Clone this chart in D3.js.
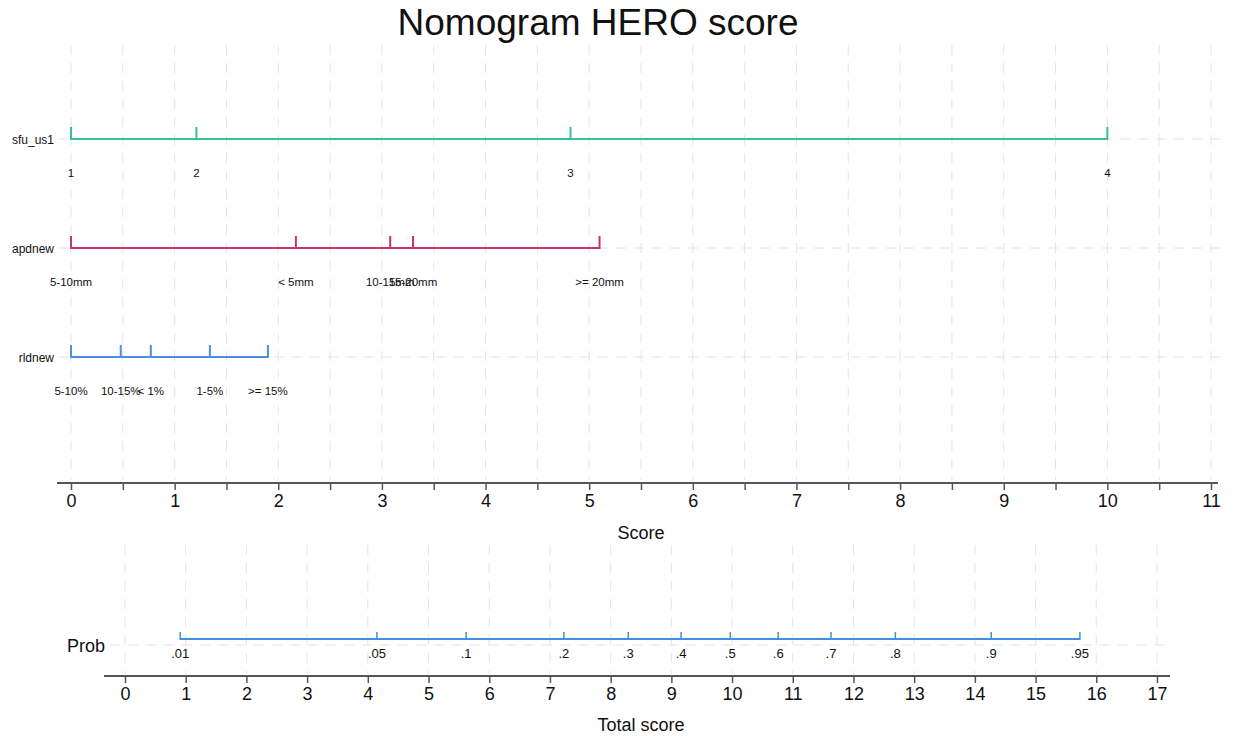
<!DOCTYPE html>
<html>
<head>
<meta charset="utf-8">
<script src="https://cdn.jsdelivr.net/npm/d3@7"></script>
<style>
	body { margin: 0; background: white; }
	text { font-family: "Liberation Sans", Arial, sans-serif; fill: #111; }
</style>
</head>
<body>
<script>
// Nomogram values (points on the Score scale for each level)
var rowNames = ["sfu_us1", "apdnew", "rldnew"]
var rowColors = ["#35c296", "#cc3468", "#4a8fe3"]

var sfuLabels = ["1", "2", "3", "4"]
var sfuPoints = [0, 1.21, 4.82, 10]

var apdLabels = ["5-10mm", "< 5mm", "10-15mm", "15-20mm", ">= 20mm"]
var apdPoints = [0, 2.17, 3.08, 3.30, 5.10]

var rldLabels = ["5-10%", "10-15%", "< 1%", "1-5%", ">= 15%"]
var rldPoints = [0, 0.48, 0.77, 1.34, 1.90]

var probLabels = [".01", ".05", ".1", ".2", ".3", ".4", ".5", ".6", ".7", ".8", ".9", ".95"]
var probPoints = [0.91, 4.15, 5.62, 7.23, 8.29, 9.16, 9.97, 10.76, 11.63, 12.69, 14.27, 15.73]

var scoreTicks = [0, 1, 2, 3, 4, 5, 6, 7, 8, 9, 10, 11]
var totalTicks = [0, 1, 2, 3, 4, 5, 6, 7, 8, 9, 10, 11, 12, 13, 14, 15, 16, 17]

var rows = [
	{ name: rowNames[0], labels: sfuLabels, points: sfuPoints, color: rowColors[0] },
	{ name: rowNames[1], labels: apdLabels, points: apdPoints, color: rowColors[1] },
	{ name: rowNames[2], labels: rldLabels, points: rldPoints, color: rowColors[2] }
]

var width = 1238, height = 736
var svg = d3.select("body").append("svg")
	.attr("width", width).attr("height", height)

// Title
svg.append("text").text("Nomogram HERO score")
	.attr("x", 598).attr("y", 35)
	.attr("font-size", 37)
	.attr("text-anchor", "middle")

var xScore = d3.scaleLinear().domain([0, 11]).range([71, 1211])
var xTotal = d3.scaleLinear().domain([0, 17]).range([125, 1157])
var yRow = d3.scalePoint().domain(rowNames).range([139, 357])

var gridColor = "#e4e4e4"

// Upper panel grid
var halfSteps = d3.range(0, 11.01, 0.5)
var grid = svg.append("g")
grid.selectAll("line.v").data(halfSteps).enter().append("line")
	.attr("x1", function(d) { return xScore(d) }).attr("x2", function(d) { return xScore(d) })
	.attr("y1", 45).attr("y2", 480)
	.attr("stroke", gridColor).attr("stroke-dasharray", "10,8")
grid.selectAll("line.h").data(rowNames).enter().append("line")
	.attr("x1", 58).attr("x2", 1225)
	.attr("y1", function(d) { return yRow(d) }).attr("y2", function(d) { return yRow(d) })
	.attr("stroke", gridColor).attr("stroke-dasharray", "10,8")

// Rows
rows.forEach(function(row) {
	var y = yRow(row.name)
	var g = svg.append("g")
	g.append("text").text(row.name)
		.attr("x", 54).attr("y", y + 2)
		.attr("font-size", 12)
		.attr("text-anchor", "end")
		.attr("dominant-baseline", "middle")
	g.append("line")
		.attr("x1", xScore(d3.min(row.points))).attr("x2", xScore(d3.max(row.points)))
		.attr("y1", y).attr("y2", y)
		.attr("stroke", row.color).attr("stroke-width", 2)
	g.selectAll("line.tk").data(row.points).enter().append("line")
		.attr("x1", function(d) { return xScore(d) }).attr("x2", function(d) { return xScore(d) })
		.attr("y1", y + 1).attr("y2", y - 12)
		.attr("stroke", row.color).attr("stroke-width", 2)
	g.selectAll("text.lb").data(row.labels).enter().append("text")
		.text(function(d) { return d })
		.attr("x", function(d, i) { return xScore(row.points[i]) })
		.attr("y", y + 35)
		.attr("font-size", 11.5)
		.attr("text-anchor", "middle")
		.attr("dominant-baseline", "middle")
})

// Score axis
var scoreAxis = d3.axisBottom(xScore)
	.tickValues(halfSteps)
	.tickSize(7)
	.tickSizeOuter(0)
	.tickFormat(function(d) { return Number.isInteger(d) && scoreTicks.indexOf(d) >= 0 ? d : "" })
var ga = svg.append("g").attr("transform", "translate(0,483)").call(scoreAxis)
ga.select(".domain").attr("d", "M57,0H1218").attr("stroke", "#555").attr("stroke-width", 2)
ga.selectAll(".tick line").attr("stroke", "#555").attr("stroke-width", 1.5)
ga.selectAll(".tick text").attr("font-size", 18).attr("fill", "#111").attr("y", 11)
	.attr("font-family", "Liberation Sans, Arial, sans-serif")
svg.append("text").text("Score")
	.attr("x", 641).attr("y", 539)
	.attr("font-size", 18)
	.attr("text-anchor", "middle")

// Lower panel grid
var g2 = svg.append("g")
g2.selectAll("line.v").data(totalTicks).enter().append("line")
	.attr("x1", function(d) { return xTotal(d) }).attr("x2", function(d) { return xTotal(d) })
	.attr("y1", 545).attr("y2", 674)
	.attr("stroke", gridColor).attr("stroke-dasharray", "10,8")
g2.append("line")
	.attr("x1", 110).attr("x2", 1168)
	.attr("y1", 645).attr("y2", 645)
	.attr("stroke", gridColor).attr("stroke-dasharray", "10,8")

// Prob row
var probY = 639
var probColor = "#3e8fe6"
svg.append("text").text("Prob")
	.attr("x", 67).attr("y", 647)
	.attr("font-size", 18)
	.attr("dominant-baseline", "middle")
svg.append("line")
	.attr("x1", xTotal(d3.min(probPoints))).attr("x2", xTotal(d3.max(probPoints)))
	.attr("y1", probY).attr("y2", probY)
	.attr("stroke", probColor).attr("stroke-width", 2)
svg.selectAll("line.ptk").data(probPoints).enter().append("line")
	.attr("x1", function(d) { return xTotal(d) }).attr("x2", function(d) { return xTotal(d) })
	.attr("y1", probY + 1).attr("y2", probY - 7)
	.attr("stroke", probColor).attr("stroke-width", 1.5)
svg.selectAll("text.plb").data(probLabels).enter().append("text")
	.text(function(d) { return d })
	.attr("x", function(d, i) { return xTotal(probPoints[i]) })
	.attr("y", 655)
	.attr("font-size", 13)
	.attr("text-anchor", "middle")
	.attr("dominant-baseline", "middle")

// Total score axis
var totalAxis = d3.axisBottom(xTotal)
	.tickValues(totalTicks)
	.tickSize(7)
	.tickSizeOuter(0)
var gb = svg.append("g").attr("transform", "translate(0,676)").call(totalAxis)
gb.select(".domain").attr("d", "M104,0H1170").attr("stroke", "#555").attr("stroke-width", 2)
gb.selectAll(".tick line").attr("stroke", "#555").attr("stroke-width", 1.5)
gb.selectAll(".tick text").attr("font-size", 18).attr("fill", "#111").attr("y", 11)
	.attr("font-family", "Liberation Sans, Arial, sans-serif")
svg.append("text").text("Total score")
	.attr("x", 641).attr("y", 731)
	.attr("font-size", 18)
	.attr("text-anchor", "middle")
</script>
</body>
</html>
